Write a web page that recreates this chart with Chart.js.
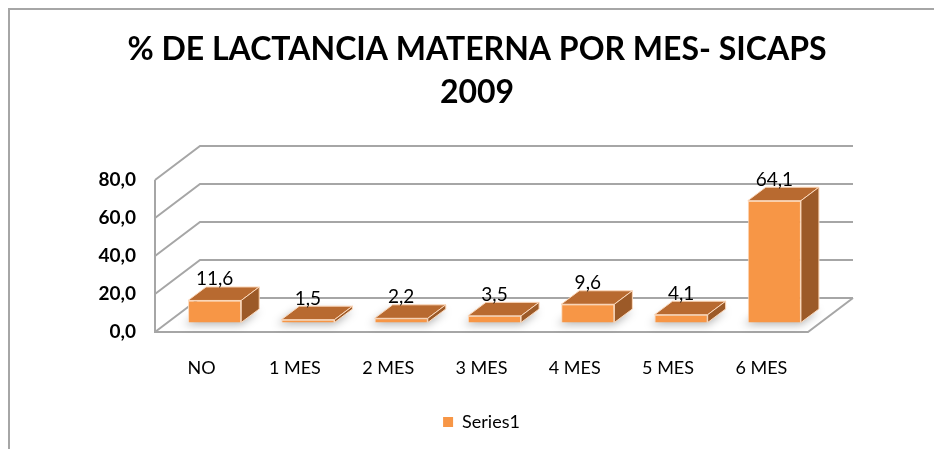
<!DOCTYPE html>
<html><head><meta charset="utf-8">
<script src="https://cdn.jsdelivr.net/npm/chart.js@4"></script>
<style>html,body{margin:0;padding:0;background:#fff;}#wrap{width:934px;height:449px;position:relative;}</style>
</head><body><div id="wrap"><canvas id="c" width="934" height="449"></canvas></div>
<script>
const categories = ['NO', '1 MES', '2 MES', '3 MES', '4 MES', '5 MES', '6 MES'];
const seriesName = 'Series1';
const seriesValues = [11.6, 1.5, 2.2, 3.5, 9.6, 4.1, 64.1];
const yTickValues = [0, 20, 40, 60, 80];
const titleLines = ['% DE LACTANCIA MATERNA POR MES- SICAPS', '2009'];

const FONT = 'Lato, "Open Sans", sans-serif';
const COLORS = {front:'#F79646', top:'#B86A30', side:'#9C5A28', edge:'#FCD9BC', grid:'#A6A6A6', frame:'#A6A6A6', text:'#000000'};
const WALL = {dx:45, dy:-34};
const SHIFT = {dx:13, dy:-9.5};
const DEPTH = {dx:18, dy:-13.5};
const fmt = v => Number(v).toFixed(1).replace('.', ',');

const threeD = {
  id: 'threeD',
  beforeDraw(chart) {
    const ctx = chart.ctx;
    ctx.save();
    ctx.strokeStyle = COLORS.frame; ctx.lineWidth = 2;
    ctx.beginPath(); ctx.moveTo(9, chart.height + 2); ctx.lineTo(9, 9); ctx.lineTo(chart.width + 2, 9); ctx.stroke();
    ctx.restore();
  },
  beforeDatasetsDraw(chart) {
    const {ctx, chartArea: a, scales: {y}} = chart;
    ctx.save();
    const y0 = y.getPixelForValue(0);
    ctx.fillStyle = '#fff';
    ctx.beginPath(); ctx.moveTo(a.left, y0); ctx.lineTo(a.right, y0); ctx.lineTo(a.right + WALL.dx, y0 + WALL.dy); ctx.lineTo(a.left + WALL.dx, y0 + WALL.dy); ctx.closePath(); ctx.fill();
    ctx.strokeStyle = COLORS.grid; ctx.lineWidth = 2;
    yTickValues.forEach(v => {
      const py = y.getPixelForValue(v);
      ctx.beginPath(); ctx.moveTo(a.left, py); ctx.lineTo(a.left + WALL.dx, py + WALL.dy); ctx.lineTo(a.right + WALL.dx, py + WALL.dy); ctx.stroke();
    });
    const yTop = y.getPixelForValue(yTickValues[yTickValues.length - 1]);
    ctx.beginPath(); ctx.moveTo(a.left, yTop); ctx.lineTo(a.left, y0); ctx.lineTo(a.right, y0); ctx.lineTo(a.right + WALL.dx, y0 + WALL.dy); ctx.stroke();
    const meta = chart.getDatasetMeta(0);
    ctx.filter = 'blur(4px)'; ctx.fillStyle = 'rgba(0,0,0,0.3)';
    meta.data.forEach(bar => {
      const {x, width, base} = bar.getProps(['x', 'width', 'base'], true);
      const l = x - width / 2 + SHIFT.dx - 4, r = x + width / 2 + SHIFT.dx, b = base + SHIFT.dy + 2;
      ctx.beginPath(); ctx.moveTo(l, b); ctx.lineTo(r, b); ctx.lineTo(r + DEPTH.dx, b + DEPTH.dy); ctx.lineTo(l + DEPTH.dx, b + DEPTH.dy); ctx.closePath(); ctx.fill();
    });
    ctx.filter = 'none';
    ctx.restore();
    ctx.save();
    ctx.translate(SHIFT.dx, SHIFT.dy);
  },
  afterDatasetsDraw(chart) {
    const ctx = chart.ctx;
    const meta = chart.getDatasetMeta(0);
    ctx.lineWidth = 1; ctx.strokeStyle = COLORS.edge; ctx.lineJoin = 'round';
    meta.data.forEach(bar => {
      const {x, y, width, base} = bar.getProps(['x', 'y', 'width', 'base'], true);
      const l = x - width / 2, r = x + width / 2;
      ctx.fillStyle = COLORS.top;
      ctx.beginPath(); ctx.moveTo(l, y); ctx.lineTo(l + DEPTH.dx, y + DEPTH.dy); ctx.lineTo(r + DEPTH.dx, y + DEPTH.dy); ctx.lineTo(r, y); ctx.closePath(); ctx.fill(); ctx.stroke();
      ctx.fillStyle = COLORS.side;
      ctx.beginPath(); ctx.moveTo(r, y); ctx.lineTo(r + DEPTH.dx, y + DEPTH.dy); ctx.lineTo(r + DEPTH.dx, base + DEPTH.dy); ctx.lineTo(r, base); ctx.closePath(); ctx.fill(); ctx.stroke();
    });
    ctx.restore();
    ctx.save();
    ctx.fillStyle = COLORS.text; ctx.font = '19px ' + FONT; ctx.textAlign = 'center'; ctx.textBaseline = 'alphabetic';
    meta.data.forEach((bar, i) => {
      const {x, y} = bar.getProps(['x', 'y'], true);
      ctx.fillText(fmt(seriesValues[i]), x + SHIFT.dx, y + SHIFT.dy + DEPTH.dy - 1.5);
    });
    ctx.restore();
  }
};

new Chart(document.getElementById('c'), {
  type: 'bar',
  data: {
    labels: categories,
    datasets: [{
      label: seriesName, data: seriesValues,
      backgroundColor: COLORS.front, borderColor: COLORS.edge, borderWidth: 1,
      barPercentage: 0.57, categoryPercentage: 1, clip: false, yAxisID: 'y'
    }]
  },
  options: {
    responsive: false, animation: false, devicePixelRatio: 1,
    layout: {padding: {left: 20, right: 0, top: 0, bottom: 8}},
    plugins: {
      tooltip: {enabled: false},
      title: {
        display: true, text: titleLines, color: '#000',
        font: {family: FONT, size: 32, weight: 'bold', lineHeight: 43 / 32},
        padding: {top: 28.5, bottom: 65.5}
      },
      legend: {
        position: 'bottom', fullSize: false,
        labels: {
          boxWidth: 10, boxHeight: 10, padding: 10, color: '#000',
          font: {family: FONT, size: 18},
          generateLabels: (chart) => [{text: seriesName, fillStyle: COLORS.front, strokeStyle: COLORS.front, lineWidth: 0, datasetIndex: 0, hidden: false}]
        }
      }
    },
    scales: {
      x: {
        type: 'category', offset: true,
        grid: {display: false, drawTicks: false}, border: {display: false},
        ticks: {color: '#000', font: {family: FONT, size: 18}, padding: 25, maxRotation: 0, autoSkip: false},
        afterFit(s) { s.height = 71; }
      },
      y: {
        type: 'linear', min: 0, max: 80,
        afterBuildTicks(s) { s.ticks = yTickValues.map(v => ({value: v})); },
        grid: {display: false, drawTicks: false}, border: {display: false},
        ticks: {callback: v => fmt(v), color: '#000', font: {family: FONT, size: 19, weight: 'bold'}, padding: 19},
        afterFit(s) { s.width = 135; }
      },
      y2: {
        type: 'linear', position: 'right', display: true,
        grid: {display: false, drawTicks: false}, border: {display: false},
        ticks: {display: false},
        afterFit(s) { s.width = 126; }
      }
    }
  },
  plugins: [threeD]
});
</script>
</body></html>
